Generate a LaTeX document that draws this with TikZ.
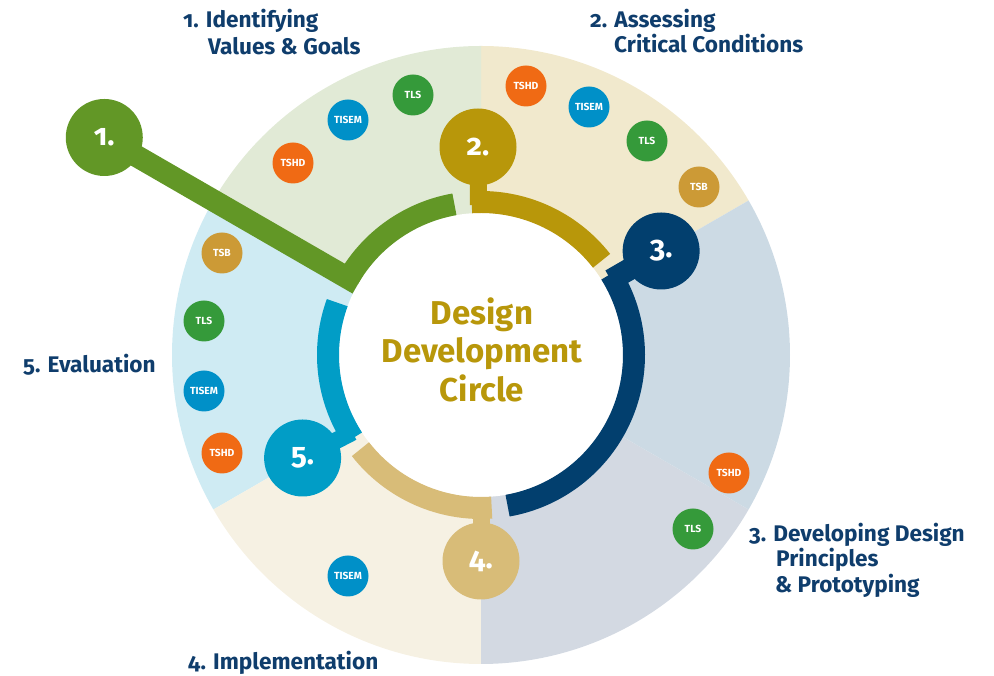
\documentclass[tikz,border=0pt]{standalone}
\usepackage{fontspec}
\setmainfont{Fira Sans}[RawFeature=+onum]
\usetikzlibrary{calc}
\definecolor{segone}{HTML}{E1EAD6}
\definecolor{segtwo}{HTML}{F1E9CD}
\definecolor{segthreea}{HTML}{CCDAE4}
\definecolor{segthreeb}{HTML}{D3D9E2}
\definecolor{segfour}{HTML}{F6F1E3}
\definecolor{segfive}{HTML}{CFEBF3}
\definecolor{cgreen}{HTML}{629726}
\definecolor{cgold}{HTML}{B8970A}
\definecolor{cnavy}{HTML}{023F6E}
\definecolor{ctan}{HTML}{D8BC78}
\definecolor{cblue}{HTML}{019DC6}
\definecolor{torange}{HTML}{F06A14}
\definecolor{tblue}{HTML}{0090C8}
\definecolor{tgreen}{HTML}{359A3A}
\definecolor{ttan}{HTML}{CC9A36}
\definecolor{lblnavy}{HTML}{0F3D6C}
\pgfdeclarelayer{bg}
\pgfdeclarelayer{mid}
\pgfsetlayers{bg,mid,main}
\tikzset{
  ring/.style={line width=22pt},
  bignode/.style={circle, minimum size=77pt, inner sep=0pt, text=white,
    font=\bfseries\fontsize{30}{30}\selectfont},
  tag/.style={circle, minimum size=41pt, inner sep=0pt, text=white,
    font=\bfseries\fontsize{10.3}{11}\selectfont},
  stagelbl/.style={anchor=base west, inner sep=0pt, text=lblnavy,
    font=\bfseries\fontsize{22.6}{26}\selectfont},
  titleline/.style={anchor=base, inner sep=0pt, text=cgold,
    font=\bfseries\fontsize{33}{38}\selectfont},
  neck/.style={line width=17pt},
}
\begin{document}
\begin{tikzpicture}[x=1pt,y=1pt]
\useasboundingbox (0,0) rectangle (994,676);
\coordinate (C) at (481,321);

% big nodes
\node[bignode, fill=cgreen] (n1) at ($(C)+(150:435)$) {1.};
\node[bignode, fill=cgold] (n2) at (478,529) {2.};
\node[bignode, fill=cnavy] (n3) at ($(C)+(30:208)$) {3.};
\node[bignode, fill=ctan] (n4) at ($(C)+(-90:206)$) {4.};
\node[bignode, fill=cblue] (n5) at ($(C)+(210:206)$) {5.};

\begin{pgfonlayer}{bg}
  \fill[segtwo] (C) -- ($(C)+(30:309)$) arc[start angle=30,end angle=90,radius=309] -- cycle;
  \fill[segone] (C) -- ($(C)+(90:309)$) arc[start angle=90,end angle=150,radius=309] -- cycle;
  \fill[segfive] (C) -- ($(C)+(150:309)$) arc[start angle=150,end angle=210,radius=309] -- cycle;
  \fill[segfour] (C) -- ($(C)+(210:309)$) arc[start angle=210,end angle=270,radius=309] -- cycle;
  \fill[segthreeb] (C) -- ($(C)+(270:309)$) arc[start angle=270,end angle=330,radius=309] -- cycle;
  \fill[segthreea] (C) -- ($(C)+(-30:309)$) arc[start angle=-30,end angle=30,radius=309] -- cycle;
  \fill[white] (C) circle[radius=142];
\end{pgfonlayer}

\begin{pgfonlayer}{mid}
  \coordinate (r1) at ($(C)+(150:142)$);
  \coordinate (r2) at ($(C)+(91:150)$);
  \coordinate (r3) at ($(C)+(30:150)$);
  \coordinate (r4) at ($(C)+(-90:150)$);
  \coordinate (r5) at ($(C)+(211:150)$);
  \draw[cgreen, line width=22pt] (r1) -- (n1.center);
  \draw[cgold, neck] (r2) -- (n2.center);
  \draw[cnavy, line width=22pt] (r3) -- (n3.center);
  \draw[ctan, neck] (r4) -- (n4.center);
  \draw[cblue, neck] (r5) -- (n5.center);
  \draw[ring, cgreen] ($(C)+(150:153)$) arc[start angle=150,end angle=100,radius=153];
  \draw[ring, cgold] ($(C)+(93.5:153)$) arc[start angle=93.5,end angle=38,radius=153];
  \draw[ring, cnavy] ($(C)+(32:153)$) arc[start angle=32,end angle=-80,radius=153];
  \draw[ring, ctan] ($(C)+(-86:153)$) arc[start angle=-86,end angle=-142,radius=153];
  \draw[ring, cblue] ($(C)+(213:153)$) arc[start angle=213,end angle=160,radius=153];
\end{pgfonlayer}

% centre title
\node[titleline] (title1) at (482,351) {Design};
\node[titleline] (title2) at (482,313) {Development};
\node[titleline] (title3) at (482,274) {Circle};

% tags segment 1
\node[tag, fill=torange] (t1a) at (293,513) {TSHD};
\node[tag, fill=tblue] (t1b) at (348,556) {TISEM};
\node[tag, fill=tgreen] (t1c) at (413,581) {TLS};
% segment 2
\node[tag, fill=torange] (t2a) at (526,590) {TSHD};
\node[tag, fill=tblue] (t2b) at (589,569) {TISEM};
\node[tag, fill=tgreen] (t2c) at (647,535) {TLS};
\node[tag, fill=ttan] (t2d) at (699,489) {TSB};
% segment 5
\node[tag, fill=ttan] (t5a) at (222,423) {TSB};
\node[tag, fill=tgreen] (t5b) at (204,355) {TLS};
\node[tag, fill=tblue] (t5c) at (204,285) {TISEM};
\node[tag, fill=torange] (t5d) at (222,223) {TSHD};
% segment 4
\node[tag, fill=tblue] (t4a) at (348,100) {TISEM};
% segment 3
\node[tag, fill=torange] (t3a) at (729,203) {TSHD};
\node[tag, fill=tgreen] (t3b) at (693,147) {TLS};

% stage labels
\node[stagelbl] (l1a) at (183,648) {1. Identifying};
\node[stagelbl] (l1b) at (208,621) {Values \& Goals};
\node[stagelbl] (l2a) at (590,648) {2. Assessing};
\node[stagelbl] (l2b) at (614,623) {Critical Conditions};
\node[stagelbl] (l5) at (23,303) {5. Evaluation};
\node[stagelbl] (l4) at (188,6) {4. Implementation};
\node[stagelbl] (l3a) at (749,134) {3. Developing Design};
\node[stagelbl] (l3b) at (776,109) {Principles};
\node[stagelbl] (l3c) at (775,83) {\& Prototyping};
\end{tikzpicture}
\end{document}
